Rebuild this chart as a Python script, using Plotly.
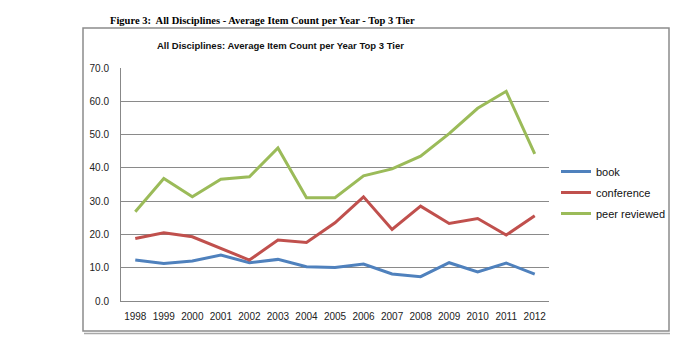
import plotly.graph_objects as go

years = [str(y) for y in range(1998, 2013)]
book = [12.3, 11.3, 12.0, 13.8, 11.5, 12.5, 10.3, 10.1, 11.1, 8.1, 7.3, 11.5, 8.7, 11.4, 8.1]
conference = [18.8, 20.5, 19.3, 15.8, 12.3, 18.3, 17.6, 23.5, 31.3, 21.5, 28.5, 23.3, 24.8, 19.8, 25.6]
peer_reviewed = [26.8, 36.8, 31.3, 36.6, 37.3, 46.0, 31.0, 31.0, 37.6, 39.7, 43.5, 50.3, 57.9, 63.0, 44.2]
y_ticks = [0, 10, 20, 30, 40, 50, 60, 70]

W, H = 700, 359
OFF = 8  # page body margin offset
# plot area in screen (reference) pixels
PL, PR, PT, PB = 121, 549, 68, 301
ML, MT = PL - OFF, PT - OFF
MR, MB = W - (PR - OFF), H - (PB - OFF)
PW, PH = PR - PL, PB - PT

def px(x):
    return (x - PL) / PW

def py(y):
    return (PB - y) / PH

fig = go.Figure()
series = [("book", book, "#4F81BD"), ("conference", conference, "#C0504D"),
          ("peer reviewed", peer_reviewed, "#9BBB59")]
for name, vals, col in series:
    fig.add_trace(go.Scatter(x=years, y=vals, name=name, mode="lines", legendgroup=name,
                             line=dict(color=col, width=3)))

fig.update_layout(
    width=W, height=H,
    margin=dict(l=ML, r=MR, t=MT, b=MB),
    paper_bgcolor="white", plot_bgcolor="white",
    font=dict(family="Liberation Sans, Arial, sans-serif", size=10, color="#222"),
    showlegend=True,
    legend=dict(x=px(556), y=py(157), xanchor="left", yanchor="top",
                font=dict(size=11, color="#111"), itemwidth=30,
                bgcolor="rgba(0,0,0,0)", tracegroupgap=2),
    xaxis=dict(type="category", range=[-0.5, 14.5], showgrid=False,
               showline=True, linecolor="#888", linewidth=1, ticks="",
               ticklabelstandoff=6,
               tickfont=dict(size=10, color="#222"), fixedrange=True),
    yaxis=dict(range=[0, 70], tickvals=y_ticks, tickformat=".1f",
               showgrid=True, gridcolor="#8a8a8a", gridwidth=1,
               showline=True, linecolor="#888", linewidth=1, ticks="",
               ticklabelstandoff=9,
               zeroline=False, tickfont=dict(size=10, color="#222"),
               fixedrange=True),
    shapes=[
        dict(type="rect", xref="paper", yref="paper",
             x0=px(83), x1=px(669), y0=py(331), y1=py(28),
             line=dict(color="#8c8c8c", width=1.5), layer="below"),
        dict(type="line", xref="paper", yref="paper",
             x0=px(84), x1=px(670), y0=py(333.5), y1=py(333.5),
             line=dict(color="#a8a8a8", width=1.5)),
    ],
    annotations=[
        dict(text="<b>Figure 3:  All Disciplines - Average Item Count per Year - Top 3 Tier</b>",
             xref="paper", yref="paper", x=px(262), y=py(20), xanchor="center", yanchor="middle",
             showarrow=False, font=dict(family="Liberation Serif, Times New Roman, serif", size=10.5, color="#000")),
        dict(text="<b>All Disciplines: Average Item Count per Year Top 3 Tier</b>",
             xref="paper", yref="paper", x=px(280), y=py(45), xanchor="center", yanchor="middle",
             showarrow=False, font=dict(family="Liberation Sans, Arial, sans-serif", size=9.5, color="#111")),
    ],
)

fig.write_html("out.html")
